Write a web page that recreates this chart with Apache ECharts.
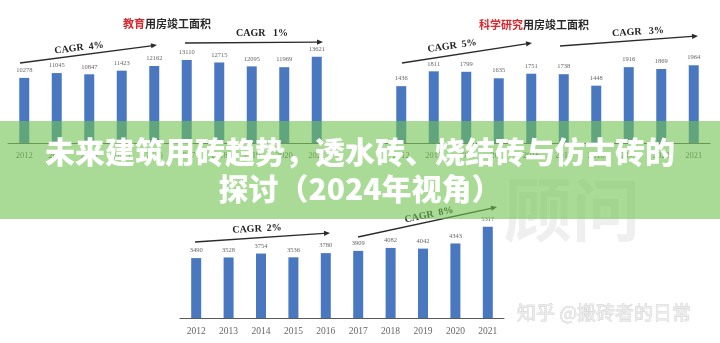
<!DOCTYPE html>
<html>
<head>
<meta charset="utf-8">
<script src="https://cdn.jsdelivr.net/npm/echarts@6/dist/echarts.min.js"></script>
<style>
html,body{margin:0;padding:0;background:#fff;}
#c{width:720px;height:343px;}
</style>
</head>
<body>
<div id="c"></div>
<script>
const years = ['2012','2013','2014','2015','2016','2017','2018','2019','2020','2021'];
const eduValues = [10278,11045,10847,11423,12162,13110,12715,12095,11969,13621];
const sciValues = [1436,1811,1799,1635,1751,1738,1448,1916,1869,1964];
const thirdValues = [3490,3528,3754,3536,3780,3909,4082,4042,4343,5317];
const eduTitle = ['教育','用房竣工面积'];
const sciTitle = ['科学研究','用房竣工面积'];
const cagrLabels = ['CAGR  4%','CAGR   1%','CAGR  5%','CAGR   3%','CAGR  2%','CAGR  8%'];
const bannerLines = ['未来建筑用砖趋势，透水砖、烧结砖与仿古砖的','探讨（2024年视角）'];
const watermark = '知乎 @搬砖者的日常';

const chart = echarts.init(document.getElementById('c'), null, {renderer:'canvas'});
const barColor = '#4a78c0';
const serif = '"Liberation Serif", "DejaVu Serif", serif';
const sans = '"Noto Sans CJK SC", "Noto Sans", sans-serif';

function makeX(gi, fs){
  return {type:'category', gridIndex:gi, data:years,
    axisLine:{lineStyle:{color:'#595959', width:1}}, axisTick:{show:false},
    axisLabel:{color:'#666', fontFamily:serif, fontSize:fs, margin:8}};
}
function makeY(gi, max){
  return {type:'value', gridIndex:gi, min:0, max:max, show:false, splitLine:{show:false}};
}
function makeSeries(i, data, fs){
  return {type:'bar', xAxisIndex:i, yAxisIndex:i, data:data, barWidth:10,
    itemStyle:{color:barColor},
    label:{show:true, position:'top', distance:4, color:'#666', fontFamily:serif, fontSize:fs},
    z:2};
}
function arrow(x1,y1,x2,y2){
  const dx=x2-x1, dy=y2-y1, L=Math.sqrt(dx*dx+dy*dy), ux=dx/L, uy=dy/L;
  const h=6, w=2.6;
  const bx=x2-ux*h, by=y2-uy*h;
  return [
    {type:'line', shape:{x1:x1,y1:y1,x2:bx,y2:by}, style:{stroke:'#2b2b2b', lineWidth:1.3}, z:5},
    {type:'polygon', shape:{points:[[x2,y2],[bx-uy*w,by+ux*w],[bx+uy*w,by-ux*w]]}, style:{fill:'#2b2b2b'}, z:5}
  ];
}
function cagr(txt,x,y,rot){
  return {type:'text', x:x, y:y, rotation:rot, z:5,
    style:{text:txt, fill:'#222', font:'bold 10px '+serif, align:'center', verticalAlign:'middle', textAlign:'center', textVerticalAlign:'middle'}};
}
function title(parts,x,y){
  return {type:'text', x:x, y:y, z:5,
    style:{text:'{r|'+parts[0]+'}{k|'+parts[1]+'}', align:'center', verticalAlign:'middle', textAlign:'center', textVerticalAlign:'middle',
      rich:{r:{fill:'#d9262b', font:'bold 11px '+sans}, k:{fill:'#2a2a2a', font:'bold 11px '+sans}}}};
}
function bannerText(txt,y){
  return {type:'text', x:360, y:y, z:101,
    style:{text:txt, fill:'#ffffff', font:'900 30px '+sans,
      align:'center', verticalAlign:'middle', textAlign:'center', textVerticalAlign:'middle',
      shadowColor:'rgba(0,0,0,0.15)', shadowBlur:2}};
}

const graphics = [].concat(
  [{type:'text', x:572, y:210, z:1,
    style:{text:'顾问', fill:'rgba(150,150,150,0.15)', font:'bold 68px '+sans, align:'center', verticalAlign:'middle', textAlign:'center', textVerticalAlign:'middle'}}],
  [title(eduTitle,167,24), title(sciTitle,534,25)],
  arrow(20,63,157,45), [cagr(cagrLabels[0],79,48,0.12)],
  arrow(185,43,323,42), [cagr(cagrLabels[1],262,33,0.0)],
  arrow(402,63,532,43), [cagr(cagrLabels[2],452,46,0.14)],
  arrow(560,46,698,36), [cagr(cagrLabels[3],638,32,0.06)],
  arrow(195,242,330,233), [cagr(cagrLabels[4],257,229,0.05)],
  arrow(358,237,497,207), [cagr(cagrLabels[5],429,215,0.2)],
  [{type:'rect', shape:{x:0,y:121,width:720,height:98}, style:{fill:'rgba(112,195,80,0.6)'}, z:100},
   bannerText(bannerLines[0],152),
   bannerText(bannerLines[1],189),
   {type:'text', x:604, y:313, z:101,
    style:{text:watermark, fill:'#ececec', stroke:'#bcbcbc', lineWidth:0.5, font:'19px '+sans, align:'center', verticalAlign:'middle', textAlign:'center', textVerticalAlign:'middle'}}]
);

chart.setOption({
  backgroundColor:'#ffffff',
  animation:false,
  grid:[
    {left:8, top:48, width:325, height:95},
    {left:385, top:48, width:325, height:95},
    {left:180, top:215, width:324, height:103}
  ],
  xAxis:[makeX(0,8.5), makeX(1,8.5), makeX(2,9.5)],
  yAxis:[makeY(0,15000), makeY(1,2400), makeY(2,6000)],
  series:[makeSeries(0,eduValues,6.5), makeSeries(1,sciValues,6.5), makeSeries(2,thirdValues,6.5)],
  graphic:{elements:graphics}
});
</script>
</body>
</html>
